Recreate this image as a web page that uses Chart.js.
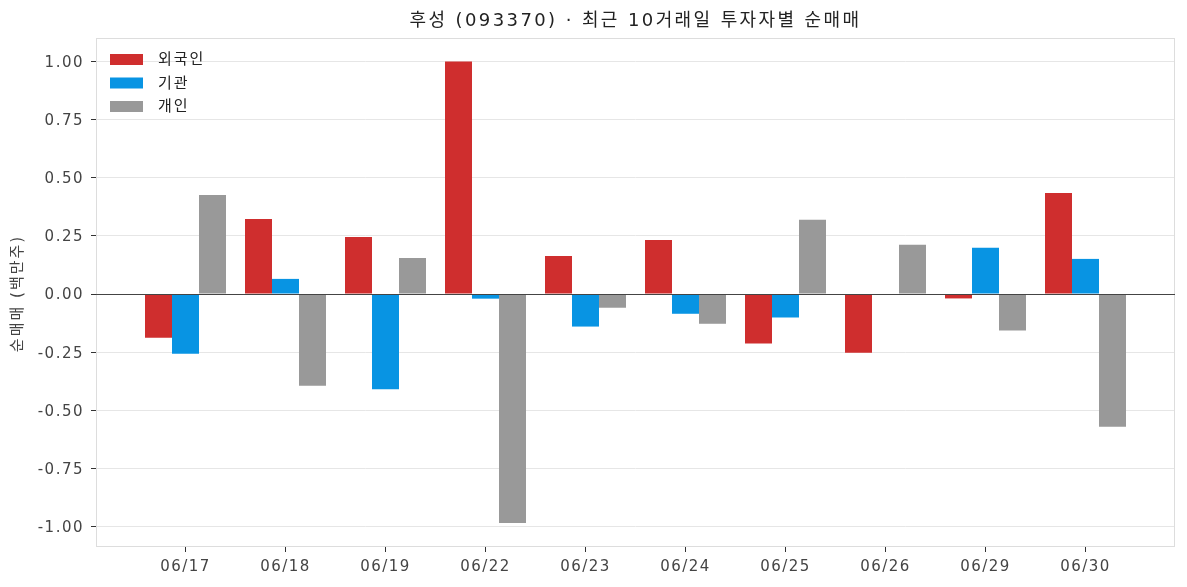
<!DOCTYPE html>
<html lang="ko">
<head>
<meta charset="utf-8">
<title>후성 순매매</title>
<script src="https://cdn.jsdelivr.net/npm/chart.js@4"></script>
<style>
    body { margin: 0; background: #fff; }
    #wrap { width: 1187px; height: 587px; }
</style>
</head>
<body>
<div id="wrap"><canvas id="chart" width="1187" height="587"></canvas></div>
<script>
// data (백만주)
const dates = ["06/17", "06/18", "06/19", "06/22", "06/23", "06/24", "06/25", "06/26", "06/29", "06/30"];
const foreign = [-0.188, 0.323, 0.245, 1.000, 0.163, 0.232, -0.213, -0.253, -0.019, 0.434];
const institution = [-0.257, 0.065, -0.410, -0.020, -0.140, -0.085, -0.101, 0.000, 0.199, 0.151];
const individual = [0.426, -0.394, 0.155, -0.985, -0.059, -0.128, 0.319, 0.212, -0.157, -0.571];
const yTicks = [-1.0, -0.75, -0.5, -0.25, 0, 0.25, 0.5, 0.75, 1.0];

const FONT = '"DejaVu Sans", "Noto Sans CJK KR", sans-serif';

function toPoints(arr) {
    return arr.map((v, i) => ({ x: i, y: v }));
}

// wider spacing like the original font
const spacing = {
    id: "spacing",
    beforeLayout(chart) { chart.ctx.letterSpacing = "1.5px"; },
    beforeDraw(chart) { chart.ctx.letterSpacing = "1.5px"; }
};

// title, y label, frame, zero line and legend
const decorations = {
    id: "decorations",
    afterDatasetsDraw(chart) {
        const { ctx, chartArea } = chart;
        const y = chart.scales.y;
        ctx.save();

        // frame
        ctx.strokeStyle = "#dddddd";
        ctx.lineWidth = 1;
        ctx.strokeRect(chartArea.left + 0.5, chartArea.top + 0.5,
            chartArea.right - chartArea.left - 1, chartArea.bottom - chartArea.top - 1);

        // zero line
        const y0 = Math.round(y.getPixelForValue(0)) + 0.5;
        ctx.strokeStyle = "#444444";
        ctx.lineWidth = 1.2;
        ctx.beginPath();
        ctx.moveTo(chartArea.left, y0);
        ctx.lineTo(chartArea.right, y0);
        ctx.stroke();

        // title
        ctx.fillStyle = "#222222";
        ctx.letterSpacing = "2.4px";
        ctx.font = "18px " + FONT;
        ctx.textAlign = "center";
        ctx.textBaseline = "middle";
        ctx.fillText("후성 (093370) · 최근 10거래일 투자자별 순매매", (chartArea.left + chartArea.right) / 2, 21);

        // y axis title
        ctx.save();
        ctx.letterSpacing = "2px";
        ctx.translate(18, (chartArea.top + chartArea.bottom) / 2 + 1);
        ctx.rotate(-Math.PI / 2);
        ctx.font = "15px " + FONT;
        ctx.fillStyle = "#444444";
        ctx.fillText("순매매 (백만주)", 0, 0);
        ctx.restore();

        // legend
        ctx.letterSpacing = "2px";
        ctx.font = "15px " + FONT;
        ctx.textAlign = "left";
        chart.data.datasets.forEach((ds, i) => {
            const cy = 59.5 + i * 23.5;
            ctx.fillStyle = ds.backgroundColor;
            ctx.fillRect(110, cy - 5.5, 33, 11);
            ctx.fillStyle = "#222222";
            ctx.fillText(ds.label, 158, cy + 1);
        });

        ctx.restore();
    }
};

new Chart(document.getElementById("chart"), {
    type: "bar",
    data: {
        datasets: [
            { label: "외국인", data: toPoints(foreign), backgroundColor: "#cf2e2e" },
            { label: "기관", data: toPoints(institution), backgroundColor: "#0894e3" },
            { label: "개인", data: toPoints(individual), backgroundColor: "#999999" }
        ]
    },
    options: {
        responsive: false,
        animation: false,
        layout: { padding: { top: 38, right: 12, left: 0, bottom: 0 } },
        datasets: {
            bar: { categoryPercentage: 0.81, barPercentage: 1.0, borderWidth: 0 }
        },
        plugins: {
            legend: { display: false },
            title: { display: false },
            tooltip: { enabled: false }
        },
        scales: {
            x: {
                type: "linear",
                offset: false,
                min: -0.895,
                max: 9.895,
                afterBuildTicks: axis => { axis.ticks = dates.map((_, i) => ({ value: i })); },
                afterFit: axis => { axis.height = 40; },
                ticks: {
                    autoSkip: false,
                    maxRotation: 0,
                    padding: 6,
                    color: "#444444",
                    font: { family: FONT, size: 15 },
                    callback: v => dates[v]
                },
                grid: {
                    offset: false,
                    drawOnChartArea: false,
                    drawTicks: true,
                    tickLength: 5,
                    tickColor: "#333333"
                },
                border: { display: false }
            },
            y: {
                min: -1.088,
                max: 1.101,
                afterBuildTicks: axis => { axis.ticks = yTicks.map(v => ({ value: v })); },
                afterFit: axis => { axis.width = 96; },
                ticks: {
                    padding: 7,
                    labelOffset: 1.5,
                    color: "#444444",
                    font: { family: FONT, size: 15 },
                    callback: v => Number(v).toFixed(2)
                },
                grid: {
                    color: "#e6e6e6",
                    lineWidth: 1,
                    tickLength: 5,
                    tickColor: "#333333"
                },
                border: { display: false }
            }
        }
    },
    plugins: [spacing, decorations]
});
</script>
</body>
</html>
